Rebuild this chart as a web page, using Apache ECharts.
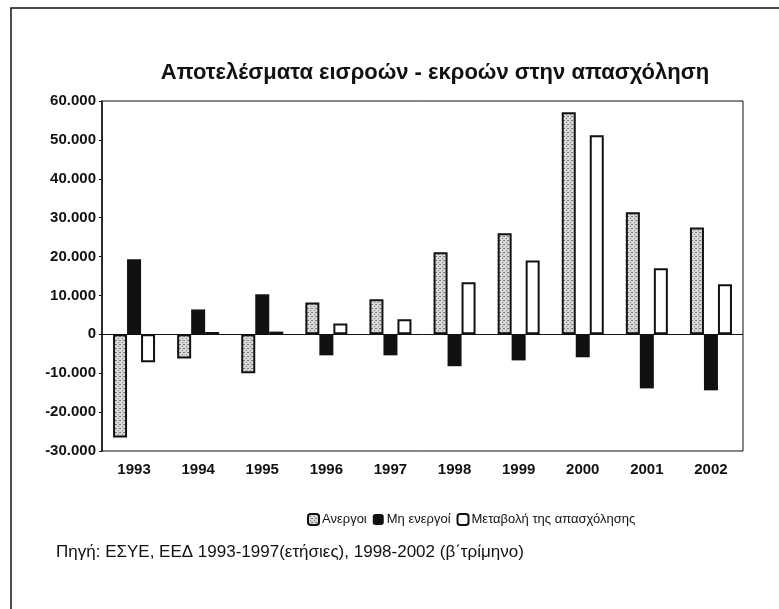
<!DOCTYPE html>
<html lang="el">
  <head>
    <meta charset="UTF-8" />
    <title>Αποτελέσματα εισροών - εκροών στην απασχόληση</title>
    <script src="https://cdn.jsdelivr.net/npm/echarts@6.0.0/dist/echarts.min.js"></script>
    <style>
      body { margin: 0; background: #fff; }
    </style>
  </head>
  <body>
    <div id="main" style="width: 779px; height: 609px"></div>
    <script type="text/javascript">
      // values
      const years = ["1993", "1994", "1995", "1996", "1997", "1998", "1999", "2000", "2001", "2002"];
      const anergoi = [-26500, -6200, -10000, 8200, 9000, 21100, 26000, 57100, 31400, 27500];
      const miEnergoi = [19300, 6400, 10300, -5400, -5400, -8200, -6700, -5900, -13900, -14400];
      const metavoli = [-7200, 600, 700, 2800, 3900, 13400, 19000, 51200, 17000, 12900];
      const yTicks = [-30000, -20000, -10000, 0, 10000, 20000, 30000, 40000, 50000, 60000];

      const font = "'Liberation Sans', Arial, sans-serif";

      // speckled grey fill like the scan
      const pat = document.createElement("canvas");
      pat.width = 4;
      pat.height = 4;
      const pc = pat.getContext("2d");
      pc.fillStyle = "#d8d8d8";
      pc.fillRect(0, 0, 4, 4);
      pc.fillStyle = "#7a7a7a";
      pc.fillRect(0, 0, 1, 1);
      pc.fillRect(2, 2, 1, 1);
      pc.fillRect(3, 0, 1, 1);

      function fmt(v) {
        if (v === 0) return "0";
        const s = Math.abs(v).toString().replace(/\B(?=(\d{3})+(?!\d))/g, ".");
        return (v < 0 ? "-" : "") + s;
      }

      let myChart = echarts.init(document.getElementById("main"));
      let options = {
        animation: false,
        backgroundColor: "#fff",
        textStyle: { fontFamily: font, color: "#111" },
        title: {
          text: "Αποτελέσματα εισροών - εκροών στην απασχόληση",
          left: 430,
          textAlign: "center",
          top: 57,
          textStyle: { fontFamily: font, fontSize: 22, fontWeight: "bold", color: "#111" },
        },
        legend: {
          top: 508,
          left: 302,
          itemWidth: 11,
          itemHeight: 11,
          itemGap: 6,
          textStyle: { fontFamily: font, fontSize: 13, color: "#111", padding: [0, 0, 0, -2] },
          data: ["Ανεργοι", "Μη ενεργοί", "Μεταβολή της απασχόλησης"],
        },
        grid: {
          left: 102,
          right: 36,
          top: 101,
          bottom: 158,
          show: true,
          borderColor: "#111",
          borderWidth: 1,
        },
        xAxis: {
          type: "category",
          data: years,
          axisLine: { show: false },
          axisTick: { show: false },
          axisLabel: { fontFamily: font, fontSize: 15, fontWeight: "bold", color: "#111", margin: 11 },
        },
        yAxis: {
          type: "value",
          min: yTicks[0],
          max: yTicks[yTicks.length - 1],
          interval: 10000,
          splitLine: { show: false },
          axisLine: { show: true, lineStyle: { color: "#111", width: 1.5 } },
          axisTick: { show: true, length: 3, lineStyle: { color: "#111" } },
          axisLabel: { fontFamily: font, fontSize: 15, fontWeight: "bold", color: "#111", margin: 6, formatter: fmt },
        },
        series: [
          {
            name: "Ανεργοι",
            type: "bar",
            data: anergoi,
            barWidth: 14,
            barGap: "0%",
            itemStyle: {
              color: { image: pat, repeat: "repeat" },
              borderColor: "#111",
              borderWidth: 2,
            },
            markLine: {
              silent: true,
              symbol: "none",
              label: { show: false },
              lineStyle: { color: "#111", type: "solid", width: 1 },
              data: [{ yAxis: 0 }],
            },
          },
          {
            name: "Μη ενεργοί",
            type: "bar",
            data: miEnergoi,
            barWidth: 14,
            itemStyle: { color: "#111" },
          },
          {
            name: "Μεταβολή της απασχόλησης",
            type: "bar",
            data: metavoli,
            barWidth: 14,
            itemStyle: { color: "#fff", borderColor: "#111", borderWidth: 2 },
          },
        ],
        graphic: [
          {
            type: "rect",
            shape: { x: 11, y: 8, width: 820, height: 700 },
            style: { fill: "none", stroke: "#111", lineWidth: 1.5 },
            silent: true,
          },
          {
            type: "text",
            left: 56,
            top: 544,
            style: {
              text: "Πηγή: ΕΣΥΕ, ΕΕΔ 1993-1997(ετήσιες), 1998-2002 (β΄τρίμηνο)",
              font: "17px " + font,
              fill: "#111",
            },
          },
        ],
      };
      myChart.setOption(options);
    </script>
  </body>
</html>
